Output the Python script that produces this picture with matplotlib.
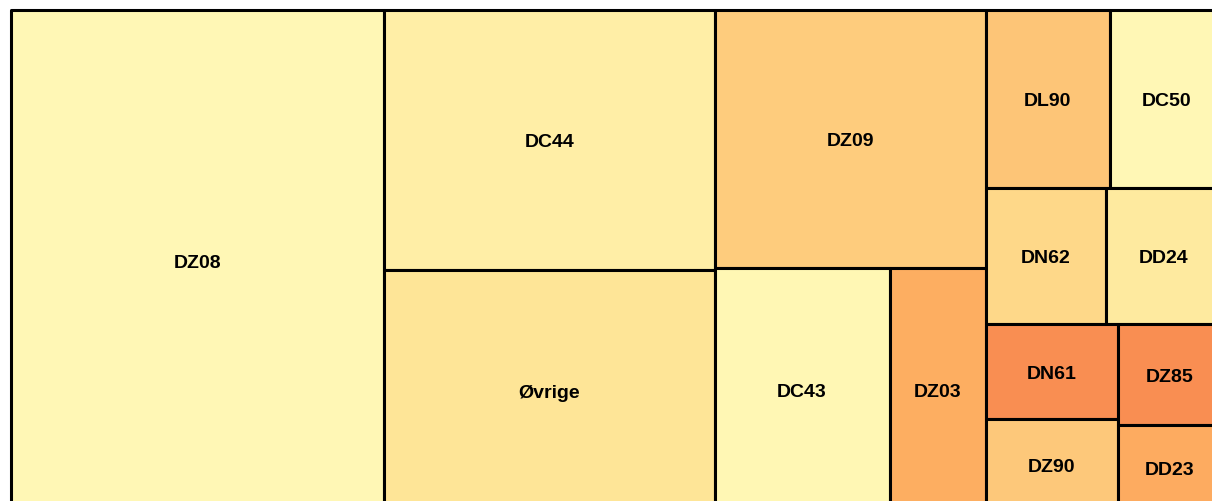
"""
Treemap of diagnosis codes, laid out with a simple binary split:
the list is cut where the running sum first passes half the total,
and each part is split again along its longer side.
"""

from matplotlib import pyplot as plt
from matplotlib.colors import LinearSegmentedColormap
from matplotlib.patches import Rectangle

CODES = [
    "DZ08", "DC44", "Øvrige", "DZ09", "DC43", "DZ03", "DL90",
    "DC50", "DN62", "DD24", "DN61", "DZ90", "DZ85", "DD23",
]
COUNTS = [1871, 861, 795, 701, 424, 233, 221, 201, 163, 159, 125, 121, 106, 90]
# second measure, drives the fill colour
COLOR_VALUE = [0.0, 0.15, 0.30, 0.48, 0.01, 0.665, 0.52, 0.0, 0.40, 0.22, 0.83, 0.50, 0.83, 0.68]

WIDTH, HEIGHT = 1212, 501  # drawing area in pixels


def binary_layout(values: list[float], x0, y0, x1, y1, first: int = 0) -> list:
    """
    Split the values in two where the running sum passes half the total,
    then recurse on both parts along the longer side.
    """
    if len(values) == 1:
        return [(first, x0, y0, x1 - x0, y1 - y0)]
    total = sum(values)
    running = 0
    k = 0
    for k, value in enumerate(values, start=1):
        running += value
        if running >= total / 2:
            break
    k = min(k, len(values) - 1)
    share = sum(values[:k]) / total
    if (x1 - x0) > (y1 - y0):
        xk = x0 + (x1 - x0) * share
        return binary_layout(values[:k], x0, y0, xk, y1, first) + binary_layout(
            values[k:], xk, y0, x1, y1, first + k
        )
    yk = y0 + (y1 - y0) * share
    return binary_layout(values[:k], x0, y0, x1, yk, first) + binary_layout(
        values[k:], x0, yk, x1, y1, first + k
    )


def plot_treemap() -> None:
    fig = plt.figure(figsize=(12.12, 5.02), dpi=100)
    # the chart is cut off on the right and at the bottom
    ax = fig.add_axes([10.5 / 1212, (502 - 10.5 - HEIGHT) / 502, WIDTH / 1212, HEIGHT / 502])
    ax.set_xlim(0, WIDTH)
    ax.set_ylim(HEIGHT, 0)
    ax.axis("off")

    cmap = LinearSegmentedColormap.from_list(
        "yellow_orange", ["#fff7b5", "#fee393", "#fdae61", "#f46d43"]
    )

    for i, x, y, w, h in binary_layout(COUNTS, 0, 0, WIDTH, HEIGHT):
        ax.add_patch(
            Rectangle(
                (x, y), w, h,
                facecolor=cmap(COLOR_VALUE[i]),
                edgecolor="black",
                linewidth=2.2,
                joinstyle="round",
                clip_on=False,
            )
        )
        # nudge a little down, the labels sit on the cap height centre
        ax.annotate(
            CODES[i], (x + w / 2, y + h / 2),
            xytext=(0, -1.5), textcoords="offset points",
            ha="center", va="center",
            fontsize=14, fontweight="bold",
            family=["Liberation Sans", "DejaVu Sans"],
            color="black",
        )

    fig.savefig("out.png", dpi=100)


if __name__ == "__main__":
    plot_treemap()
